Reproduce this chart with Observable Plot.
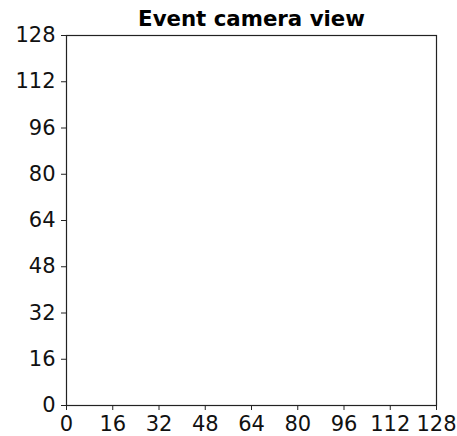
<!DOCTYPE html>
<html>
<head>
<meta charset="utf-8">
<script src="https://cdn.jsdelivr.net/npm/d3@7"></script>
<script src="https://cdn.jsdelivr.net/npm/@observablehq/plot@0.6"></script>
<style>
  html, body { margin: 0; padding: 0; background: #fff; }
</style>
</head>
<body>
<div id="chart"></div>
<script>
const title = "Event camera view";
const xDomain = [0, 128];
const yDomain = [0, 128];
const xTicks = [0, 16, 32, 48, 64, 80, 96, 112, 128];
const yTicks = [0, 16, 32, 48, 64, 80, 96, 112, 128];
const events = []; // no events shown

const chart = Plot.plot({
  width: 457,
  height: 436,
  marginLeft: 66,
  marginRight: 21,
  marginTop: 35,
  marginBottom: 31,
  style: { fontFamily: "DejaVu Sans", fontSize: "21px", background: "#fff", color: "#000" },
  x: { domain: xDomain, label: null },
  y: { domain: yDomain, label: null },
  marks: [
    Plot.frame({ stroke: "#222", strokeWidth: 1.2 }),
    Plot.axisX({ ticks: xTicks, tickSize: 5, tickPadding: 6, fontSize: 21, label: null, stroke: "#222", fill: "#111" }),
    Plot.axisY({ ticks: yTicks, tickSize: 5, tickPadding: 6, fontSize: 21, label: null, stroke: "#222", fill: "#111" }),
    Plot.dot(events, { x: "x", y: "y", r: 1 }),
    Plot.text([title], { frameAnchor: "top", dy: -9.5, text: d => d, fontSize: 21.3, fontWeight: "bold", fill: "#000", lineAnchor: "bottom" })
  ]
});
document.getElementById("chart").appendChild(chart);
</script>
</body>
</html>
